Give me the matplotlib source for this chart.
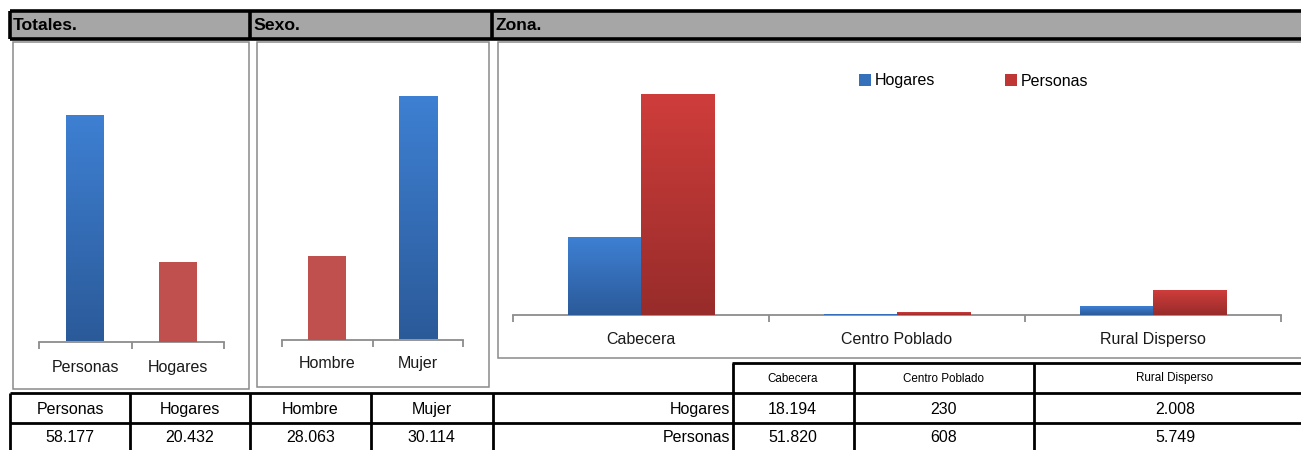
import numpy as np
import matplotlib
matplotlib.use("Agg")
import matplotlib.pyplot as plt
from matplotlib.colors import LinearSegmentedColormap
from matplotlib.patches import Rectangle, Patch

# ---------------- data ----------------
totales_cats = ["Personas", "Hogares"]
totales_vals = [58177, 20432]
sexo_cats = ["Hombre", "Mujer"]
sexo_vals = [28063, 30114]
zona_cats = ["Cabecera", "Centro Poblado", "Rural Disperso"]
zona_hogares = [18194, 230, 2008]
zona_personas = [51820, 608, 5749]
section_titles = ["Totales.", "Sexo.", "Zona."]
zona_series = ["Hogares", "Personas"]

def fmt(v):
    return f"{v:,}".replace(",", ".")

plt.rcParams["font.family"] = ["Liberation Sans", "DejaVu Sans"]

W, H = 1301, 450
fig = plt.figure(figsize=(W / 100, H / 100), dpi=100)

BLUE_TOP, BLUE_BOT = "#3E80D3", "#2B5A99"
RED_TOP, RED_BOT = "#CF3D3B", "#972C2A"
RED_FLAT = "#C0504D"
AXIS_GRAY = "#8C8C8C"

# overlay in pixel coordinates
ov = fig.add_axes([0, 0, 1, 1], zorder=0)
ov.set_xlim(0, W)
ov.set_ylim(H, 0)
ov.axis("off")

def px_axes(L, T, R, B):
    return fig.add_axes([L / W, 1 - B / H, (R - L) / W, (B - T) / H], zorder=2)

# header row
ov.add_patch(Rectangle((10, 11), W - 10, 27, facecolor="#A6A6A6", edgecolor="none"))
lw_thick = 2.6
ov.plot([10, W], [11, 11], color="black", lw=lw_thick, solid_capstyle="butt")
ov.plot([10, W], [38.5, 38.5], color="black", lw=lw_thick, solid_capstyle="butt")
for x in [10, 250, 492]:
    ov.plot([x, x], [11, 38.5], color="black", lw=lw_thick, solid_capstyle="butt")
for x, t in zip([13, 253, 495], section_titles):
    ov.text(x, 25, t, ha="left", va="center", fontsize=12.6, fontweight="bold", color="black")

# chart boxes
box_col = "#8A8A8A"
for (L, T, R, B) in [(13, 42, 249, 389), (257, 42, 488.5, 387), (497.5, 42, 1312, 358)]:
    ov.add_patch(Rectangle((L, T), R - L, B - T, facecolor="white", edgecolor=box_col, lw=1.1))

# ---------------- helpers ----------------
def gradient_bars(ax, bars, top, bot, ymin=0):
    cmap = LinearSegmentedColormap.from_list("g", [bot, top])
    grad = np.linspace(0, 1, 256).reshape(-1, 1)
    for b in bars:
        x0, y0 = b.get_x(), max(b.get_y(), ymin)
        w, h = b.get_width(), b.get_y() + b.get_height() - y0
        if h <= 0:
            continue
        im = ax.imshow(grad, extent=[x0, x0 + w, y0, y0 + h], origin="lower",
                       aspect="auto", cmap=cmap, zorder=3, interpolation="bilinear")
        im.set_clip_path(b)
        b.set_facecolor("none")
        b.set_edgecolor("none")

def style_cat_axis(ax, cats, pad):
    n = len(cats)
    ax.set_facecolor("none")
    for s in ["top", "left", "right"]:
        ax.spines[s].set_visible(False)
    ax.spines["bottom"].set_color(AXIS_GRAY)
    ax.spines["bottom"].set_linewidth(1.3)
    ax.set_yticks([])
    ax.set_xticks(np.arange(-0.5, n, 1.0))
    ax.set_xticklabels([""] * (n + 1))
    ax.set_xticks(np.arange(n), minor=True)
    ax.set_xticklabels(cats, minor=True, fontsize=11.5, color="#1A1A1A")
    ax.tick_params(axis="x", which="major", length=5, width=1.3, color=AXIS_GRAY, direction="out")
    ax.tick_params(axis="x", which="minor", length=0, pad=pad)
    ax.set_xlim(-0.5, n - 0.5)

# ---------------- Totales chart ----------------
ax1 = px_axes(39, 68.5, 224, 341.5)
b1 = ax1.bar(range(2), totales_vals, width=0.41, zorder=3)
gradient_bars(ax1, [b1[0]], BLUE_TOP, BLUE_BOT)
b1[1].set_facecolor(RED_FLAT)
b1[1].set_edgecolor("none")
style_cat_axis(ax1, totales_cats, 13)
ax1.set_ylim(0, 70000)

# ---------------- Sexo chart ----------------
ax2 = px_axes(282, 65.8, 463, 339.5)
b2 = ax2.bar(range(2), sexo_vals, width=0.42, zorder=3)
b2[0].set_facecolor(RED_FLAT)
b2[0].set_edgecolor("none")
gradient_bars(ax2, [b2[1]], BLUE_TOP, BLUE_BOT, ymin=27000)
style_cat_axis(ax2, sexo_cats, 12)
ax2.set_ylim(27000, 30500)

# ---------------- Zona chart ----------------
ax3 = px_axes(513, 59, 1281, 315)
x = np.arange(len(zona_cats))
bw = 0.287
bh = ax3.bar(x - bw / 2, zona_hogares, width=bw, zorder=3, label=zona_series[0])
bp = ax3.bar(x + bw / 2, zona_personas, width=bw, zorder=3, label=zona_series[1])
gradient_bars(ax3, bh, BLUE_TOP, BLUE_BOT)
gradient_bars(ax3, bp, RED_TOP, RED_BOT)
style_cat_axis(ax3, zona_cats, 12.5)
ax3.set_ylim(0, 60000)

handles = [Patch(facecolor="#3570BA", edgecolor="none"), Patch(facecolor="#BF3735", edgecolor="none")]
leg = fig.legend(handles, zona_series, loc="center left", ncol=2, frameon=False,
                 bbox_to_anchor=(859 / W, 1 - 81 / H), fontsize=11.5,
                 handlelength=0.75, handleheight=0.75, handletextpad=0.25,
                 columnspacing=4.35, borderpad=0, borderaxespad=0)

# ---------------- tables ----------------
tlw = 2.0
for y in [393, 423]:
    ov.plot([10, W], [y, y], color="black", lw=tlw, solid_capstyle="butt")
for xv in [10, 129.5, 250, 371, 492.5]:
    ov.plot([xv, xv], [393, H], color="black", lw=tlw, solid_capstyle="butt")
ov.plot([732, W], [363, 363], color="black", lw=tlw, solid_capstyle="butt")
for xv in [732.5, 853.5, 1034]:
    ov.plot([xv, xv], [363, H], color="black", lw=tlw, solid_capstyle="butt")

tfs = 11.5
left_labels = totales_cats + sexo_cats
left_vals = totales_vals + sexo_vals
for cx, lab, v in zip([70, 189.5, 310.5, 431.5], left_labels, left_vals):
    ov.text(cx, 409.5, lab, ha="center", va="center", fontsize=tfs, color="black")
    ov.text(cx, 438, fmt(v), ha="center", va="center", fontsize=tfs, color="black")

zona_cx = [792.5, 943.5, 1175]
for cx, c in zip(zona_cx, zona_cats):
    ov.text(cx, 378.5, c, ha="center", va="center", fontsize=8.4, color="black")
ov.text(730, 409.5, zona_series[0], ha="right", va="center", fontsize=tfs, color="black")
ov.text(730, 438, zona_series[1], ha="right", va="center", fontsize=tfs, color="black")
for cx, vh, vp in zip(zona_cx, zona_hogares, zona_personas):
    ov.text(cx, 409.5, fmt(vh), ha="center", va="center", fontsize=tfs, color="black")
    ov.text(cx, 438, fmt(vp), ha="center", va="center", fontsize=tfs, color="black")

fig.savefig("out.png", dpi=100)
